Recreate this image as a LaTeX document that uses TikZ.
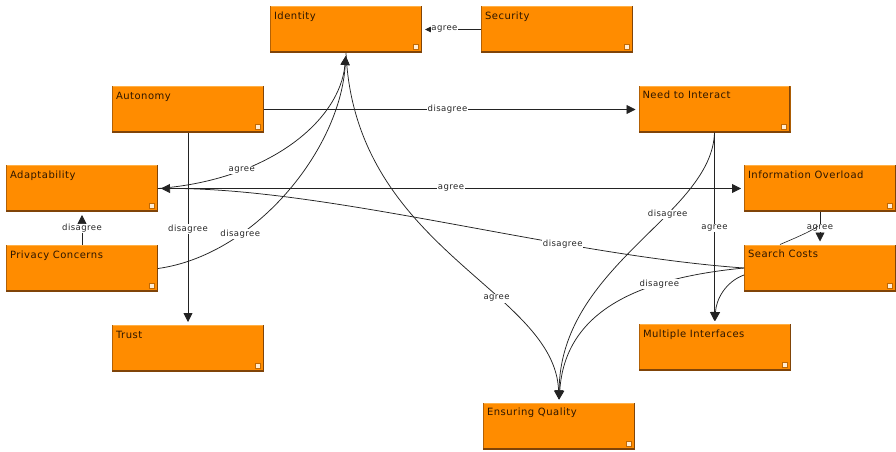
\documentclass[tikz,border=0pt]{standalone}
\usepackage{fontspec}
\newfontfamily\boxfont{DejaVu Sans}[LetterSpace=5]
\usetikzlibrary{arrows.meta,calc}

\definecolor{boxorange}{RGB}{255,140,0}
\definecolor{boxedge}{RGB}{128,68,8}
\definecolor{boxtop}{RGB}{255,176,70}
\definecolor{titlebrown}{RGB}{45,22,0}
\definecolor{linkgray}{RGB}{35,35,35}
\definecolor{cornersq}{RGB}{255,236,210}

\tikzset{
  gbox/.style={rectangle, fill=boxorange, minimum width=152pt, minimum height=47pt,
    inner sep=0pt, outer sep=0pt, text=titlebrown,
    font=\boxfont\fontsize{10}{12}\selectfont,
    path picture={
      \fill[boxtop] (path picture bounding box.north west) rectangle ([yshift=-1pt]path picture bounding box.north east);
      \fill[boxedge!60!boxorange] (path picture bounding box.north west) rectangle ([xshift=0.8pt]path picture bounding box.south west);
      \fill[boxedge] (path picture bounding box.south west) rectangle ([yshift=2pt]path picture bounding box.south east);
      \fill[boxedge] ([xshift=-1.5pt]path picture bounding box.north east) rectangle (path picture bounding box.south east);
      \filldraw[fill=cornersq, draw=boxedge!50!boxorange, line width=0.4pt]
        ([xshift=-9pt,yshift=3.5pt]path picture bounding box.south east) rectangle
        ([xshift=-4pt,yshift=8.5pt]path picture bounding box.south east);
    }},
  link/.style={draw=linkgray, line width=0.75pt, -{Triangle[length=9pt,width=9pt]}, shorten >=3pt},
  lbl/.style={fill=white, inner sep=0.8pt, text=black!85, font=\boxfont\fontsize{8.5}{10}\selectfont},
}

% one orange concept box, title set at its top left
\newcommand\conceptbox[4]{%
  \node[gbox] (#1) at (#2,#3) {\parbox[c][47pt][t]{152pt}{\hspace*{4pt}\rule{0pt}{13pt}#4}};}

\begin{document}
\begin{tikzpicture}[x=1pt, y=-1pt]
  \fill[white] (0,0) rectangle (896,452);
  \useasboundingbox (0,0) rectangle (896,452);

  % concept boxes
  \conceptbox{identity}{346}{29.5}{Identity}
  \conceptbox{security}{557}{29.5}{Security}
  \conceptbox{autonomy}{188}{109.5}{Autonomy}
  \conceptbox{need}{714.5}{109}{Need to Interact}
  \conceptbox{adapt}{82}{188.5}{Adaptability}
  \conceptbox{info}{820}{188.5}{Information Overload}
  \conceptbox{privacy}{82}{268.5}{Privacy Concerns}
  \conceptbox{search}{820}{268}{Search Costs}
  \conceptbox{trust}{188}{348.5}{Trust}
  \conceptbox{multi}{715}{347.5}{Multiple Interfaces}
  \conceptbox{quality}{559}{426}{Ensuring Quality}

  % straight links
  \draw[link, -{Triangle[length=7pt,width=6.5pt]}] (security.west) -- node[lbl, pos=0.62] (lsec) {agree} (identity.east);
  \draw[link] (autonomy.east) -- node[lbl, pos=0.49] (lauto) {disagree} (autonomy.east -| need.west);
  \draw[link] (autonomy.south) -- node[lbl] (ltrust) {disagree} (autonomy.south |- trust.north);
  \draw[link] (privacy.north) -- node[lbl] (lpriv) {disagree} (adapt.south);
  \draw[link] (adapt.east) -- node[lbl] (ladapt) {agree} (adapt.east -| info.west);
  \draw[link] (need.south) -- node[lbl] (lneed) {agree} (need.south |- multi.north);
  \draw[link] (info.south) -- node[lbl] (linfo) {agree} (search.north);

  % curved links
  \draw[link] (adapt.east) .. controls (270,180) and (340,120) .. (identity.south)
    node[lbl, pos=0.28] (lcurA) {agree};
  \draw[link] (privacy.east) .. controls (255,255) and (340,150) .. (identity.south)
    node[lbl, pos=0.3] (lcurB) {disagree};
  \draw[link] (identity.south) .. controls (355,250) and (555,290) .. (quality.north)
    node[lbl, pos=0.64] (lcurC) {agree};
  \draw[link] (need.south) .. controls (712,215) and (560,265) .. (quality.north)
    node[lbl, pos=0.36] (lcurD) {disagree};
  \draw[link] (search.west) .. controls (640,278) and (565,310) .. (quality.north)
    node[lbl, pos=0.3] (lcurE) {disagree};
  \draw[link] (search.west) .. controls (560,255) and (330,188) .. (adapt.east)
    node[lbl, pos=0.31] (lcurF) {disagree};
  \draw[link] ($(search.west)+(0,7)$) .. controls (725,282) and (716,300) .. (multi.north);

  % short stub leaving the top of Search Costs
  \coordinate (stubEnd) at (818,226);
  \draw[draw=linkgray, line width=0.6pt] ($(search.north west)+(36,0)$) .. controls (795,238) and (810,232) .. (stubEnd);
\end{tikzpicture}
\end{document}
